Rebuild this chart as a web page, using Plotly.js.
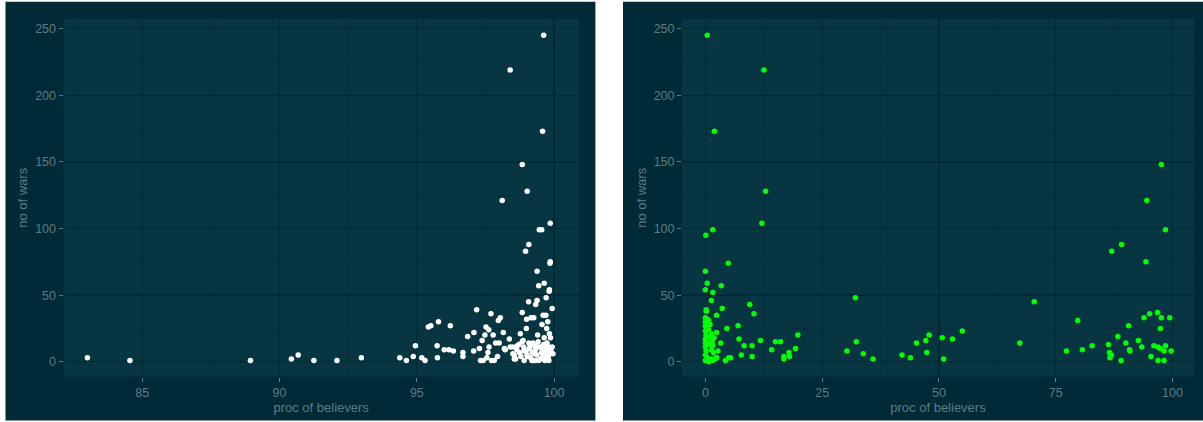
<!DOCTYPE html>
<html>
<head>
<meta charset="utf-8">
<script src="https://cdn.plot.ly/plotly-3.0.1.min.js"></script>
<style>html,body{margin:0;padding:0;background:#fff;}#chart{width:1203px;height:422px;}</style>
</head>
<body>
<div id="chart"></div>
<script>
// Left panel: proportion of believers (all religions) vs number of wars
const leftBelievers = [83.0,84.55,88.94,90.43,90.68,91.25,92.09,92.98,94.38,94.62,94.87,94.95,95.18,95.30,95.42,95.51,95.74,95.75,95.79,96.0,96.17,96.22,96.33,96.68,96.68,96.85,97.07,97.08,97.18,97.28,97.32,97.38,97.42,97.48,97.52,97.55,97.62,97.59,97.63,97.7,97.72,97.78,97.82,97.87,97.94,98.0,97.97,98.04,98.11,98.15,98.19,98.22,98.37,98.40,98.5,98.55,98.6,98.66,98.77,98.84,98.84,98.87,98.9,98.96,98.99,99.0,99.02,99.03,99.07,99.08,99.12,99.16,99.19,99.23,99.26,99.30,99.32,99.33,99.38,99.38,99.40,99.42,99.44,99.46,99.50,99.55,99.56,99.57,99.58,99.6,99.62,99.64,99.64,99.67,99.69,99.70,99.71,99.73,99.74,99.77,99.79,99.81,99.82,99.83,99.83,99.85,99.86,99.86,99.87,99.88,99.93,99.96,99.93,
  98.40,98.50,98.55,98.64,98.72,98.74,98.79,98.84,98.89,98.91,98.98,99.01,99.08,99.10,99.15,99.20,99.25,99.30,99.32,99.37,99.42,99.44,99.49,99.54,99.59,99.62,99.66,99.69,99.71,99.76,99.79,99.81,99.86,99.88];
const leftWars = [3,1,1,2,5,1,1,3,3,1,4,12,3,1,26,27,12,3,30,9,9,27,8,7,4,19,8,22,39,10,1,16,1,20,26,3,24,7,11,36,1,20,1,14,4,14,31,33,121,22,10,9,17,219,11,5,2,12,21,37,148,16,8,83,25,32,128,4,45,88,11,33,1,14,33,6,1,43,46,68,20,11,57,99,2,99,28,10,173,35,245,59,18,6,2,35,48,25,14,30,10,1,53,21,54,74,75,104,18,8,40,6,11,
  11,6,2,9,13,7,4,15,11,1,8,5,14,10,3,7,1,12,9,5,15,1,11,7,4,13,1,9,6,12,3,8,6,10];

// Right panel: proportion of believers (single religion) vs number of wars
const rightBelievers = [0.4,12.55,1.94,97.6,12.9,94.5,12.1,1.6,98.5,0.1,89.1,87.0,94.3,4.9,0,0.4,3.4,0,1.6,32.1,1.3,70.4,9.5,3.6,0.2,10.4,2.4,95.1,96.8,93.9,97.6,99.4,79.7,7.0,90.6,97.4,4.6,2.4,55.0,19.8,47.9,88.3,50.7,52.9,7.2,11.8,92.7,15.0,16.1,32.3,47.2,45.2,67.3,3.3,90.0,86.3,8.3,10.0,82.8,96.0,98.5,93.4,96.9,19.3,80.7,90.8,97.4,14.2,90.9,77.3,98.2,99.7,2.7,30.3,17.9,47.4,33.8,86.5,7.7,42.1,86.9,95.4,10.0,18.0,16.8,5.0,5.4,43.9,16.8,86.6,35.9,51.0,4.3,89.0,96.9,98.2,
  0,0.44,1.0,0,0.15,0.72,0,1.29,1.86,0,0.44,1.0,0,0.15,1.29,1.72,0,0.44,1.29,2.0,2.43,0,0.72,1.58,1.0,0.15,0.72,1.43,0,0,0.2,0.4,2.4,1.6];
const rightWars = [245,219,173,148,128,121,104,99,99,95,88,83,75,74,68,59,57,54,52,48,46,45,43,40,39,36,35,36,37,33,33,33,31,27,27,25,25,22,23,20,20,19,18,17,17,16,16,15,15,15,16,14,14,14,14,13,12,12,12,12,12,11,11,10,9,9,10,9,8,8,8,8,8,8,7,7,6,7,5,5,5,4,4,4,4,3,3,3,2,3,2,2,1,1,1,1,
  33,32,28,30,26,24,23,21,18,17,14,13,11,8,9,7,5,3,2,2,3,1,0,1,18,20,31,15,14,27,38,30,3,12];

const xTicksLeft = [85, 90, 95, 100];
const xTicksRight = [0, 25, 50, 75, 100];
const yTicks = [0, 50, 100, 150, 200, 250];

const W = 1203, H = 422;
const px = v => v / W;
const py = v => 1 - v / H;

const textCol = '#5f7a82';
const outerBg = '#002b36';
const panelBg = '#073642';
const majorGrid = '#012a35';
const minorGrid = '#032f3b';
const font = {family: 'Liberation Sans, Arial, sans-serif', size: 12.5, color: textCol};
const titleFont = {family: 'Liberation Sans, Arial, sans-serif', size: 13, color: textCol};

function xAxis(domain, range, ticks, minorStep, anchor) {
  return {
    domain: domain, range: range, anchor: anchor,
    tickmode: 'array', tickvals: ticks, ticktext: ticks.map(String),
    showgrid: true, gridcolor: majorGrid, gridwidth: 1.3,
    minor: {dtick: minorStep, tick0: 0, showgrid: true, gridcolor: minorGrid, gridwidth: 0.9, ticks: ''},
    zeroline: false, showline: false,
    ticks: 'outside', ticklen: 4, tickwidth: 1, tickcolor: textCol,
    tickfont: font,
    title: {text: 'proc of believers', font: titleFont, standoff: 2},
    fixedrange: true
  };
}
function yAxis(domain, anchor) {
  return {
    domain: domain, range: [-11.2, 257.2], anchor: anchor,
    tickmode: 'array', tickvals: yTicks, ticktext: yTicks.map(String),
    showgrid: true, gridcolor: majorGrid, gridwidth: 1.3,
    minor: {dtick: 25, tick0: 0, showgrid: true, gridcolor: minorGrid, gridwidth: 0.9, ticks: ''},
    zeroline: false, showline: false,
    ticks: 'outside', ticklen: 4, tickwidth: 1, tickcolor: textCol,
    tickfont: font,
    title: {text: 'no of wars', font: titleFont, standoff: 4},
    fixedrange: true
  };
}

const yDom = [py(376.7), py(19)];
const leftDom = [px(63.5), px(578.8)];
const rightDom = [px(682), px(1194)];

const traces = [
  {type: 'scatter', mode: 'markers', x: leftBelievers, y: leftWars, xaxis: 'x', yaxis: 'y',
   marker: {color: '#ffffff', size: 5.5, line: {width: 0}}, hoverinfo: 'x+y', showlegend: false},
  {type: 'scatter', mode: 'markers', x: rightBelievers, y: rightWars, xaxis: 'x2', yaxis: 'y2',
   marker: {color: '#00ff00', size: 5.5, line: {width: 0}}, hoverinfo: 'x+y', showlegend: false}
];

function rect(x0, x1, y0, y1, color) {
  return {type: 'rect', xref: 'paper', yref: 'paper', x0: x0, x1: x1, y0: y0, y1: y1,
          fillcolor: color, line: {width: 0}, layer: 'below'};
}

const layout = {
  width: W, height: H,
  margin: {l: 0, r: 0, t: 0, b: 0},
  paper_bgcolor: '#ffffff',
  plot_bgcolor: panelBg,
  showlegend: false,
  xaxis: xAxis(leftDom, [82.13, 100.9], xTicksLeft, 2.5, 'y'),
  yaxis: yAxis(yDom, 'x'),
  xaxis2: xAxis(rightDom, [-5, 104.6], xTicksRight, 12.5, 'y2'),
  yaxis2: yAxis(yDom, 'x2'),
  shapes: [
    rect(px(5.5), px(595.4), py(420.5), py(1.7), outerBg),
    rect(px(623), px(1203), py(420.5), py(1.7), outerBg),
    rect(leftDom[0], leftDom[1], yDom[0], yDom[1], panelBg),
    rect(rightDom[0], rightDom[1], yDom[0], yDom[1], panelBg)
  ]
};

Plotly.newPlot('chart', traces, layout, {displayModeBar: false, staticPlot: true});
</script>
</body>
</html>
